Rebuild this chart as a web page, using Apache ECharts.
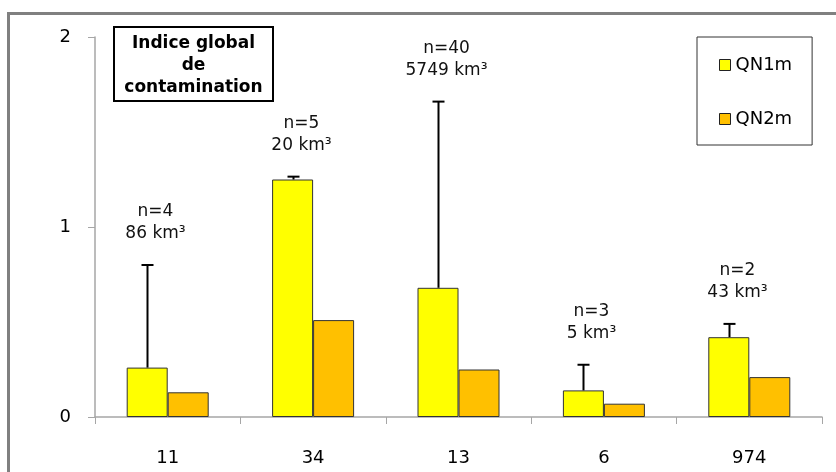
<!DOCTYPE html>
<html>
<head>
<meta charset="utf-8">
<script src="https://cdn.jsdelivr.net/npm/echarts@6/dist/echarts.min.js"></script>
<style>
html,body{margin:0;padding:0;background:#fff;}
#chart{width:836px;height:472px;}
</style>
</head>
<body>
<div id="chart"></div>
<script>
// ---- data ----
const categories = ['11', '34', '13', '6', '974'];
const qn1m = [0.26, 1.25, 0.68, 0.14, 0.42];
const qn2m = [0.13, 0.51, 0.25, 0.07, 0.21];
const qn1mErrPlus = [0.54, 0.015, 0.98, 0.135, 0.07];
const sampleN = [4, 5, 40, 3, 2];
const volumesKm3 = [86, 20, 5749, 5, 43];
const yTicks = [0, 1, 2];
const titleLines = ['Indice global', 'de', 'contamination'];

const FONT = '"DejaVu Sans", Verdana, sans-serif';
const BAR_W = 41;

const errData = categories.map((c, i) => [i, qn1m[i] + qn1mErrPlus[i], qn1m[i], sampleN[i], volumesKm3[i]]);

const chart = echarts.init(document.getElementById('chart'), null, {renderer: 'canvas'});
chart.setOption({
  animation: false,
  backgroundColor: '#ffffff',
  textStyle: {fontFamily: FONT},
  grid: {left: 95, right: 14, top: 37, bottom: 55},
  legend: {
    orient: 'vertical',
    left: 697, top: 37,
    data: ['QN1m', 'QN2m'],
    icon: 'rect',
    itemWidth: 11, itemHeight: 11,
    itemGap: 36,
    padding: [19, 20, 17, 22],
    borderColor: '#333',
    borderWidth: 1,
    textStyle: {fontFamily: FONT, fontSize: 18, color: '#000'},
    itemStyle: {borderColor: '#222', borderWidth: 1}
  },
  xAxis: {
    type: 'category',
    data: categories,
    axisLine: {lineStyle: {color: '#a6a6a6', width: 1.5}},
    axisTick: {show: true, length: 7, lineStyle: {color: '#a6a6a6'}},
    axisLabel: {color: '#000', fontSize: 18, fontFamily: FONT, margin: 32}
  },
  yAxis: {
    type: 'value',
    min: 0, max: 2, interval: 1,
    splitLine: {show: false},
    axisLine: {show: true, lineStyle: {color: '#a6a6a6', width: 1.5}},
    axisTick: {show: true, length: 7, lineStyle: {color: '#a6a6a6'}},
    axisLabel: {
      color: '#000', fontSize: 18, fontFamily: FONT, margin: 24,
      formatter: v => (yTicks.indexOf(v) >= 0 ? String(v) : '')
    }
  },
  series: [
    {
      name: 'QN1m', type: 'bar', data: qn1m, barWidth: BAR_W, barGap: '0%',
      itemStyle: {color: '#FFFF00', borderColor: '#333', borderWidth: 1}
    },
    {
      name: 'QN2m', type: 'bar', data: qn2m, barWidth: BAR_W, barGap: '0%',
      itemStyle: {color: '#FFC000', borderColor: '#333', borderWidth: 1}
    },
    {
      name: 'err', type: 'custom', data: errData, z: 5,
      renderItem: function (params, api) {
        const top = api.coord([api.value(0), api.value(1)]);
        const base = api.coord([api.value(0), api.value(2)]);
        const x = Math.round(top[0] - BAR_W / 2) + 0.5;
        const n = api.value(3), vol = api.value(4);
        return {
          type: 'group',
          children: [
            {type: 'line', shape: {x1: x, y1: base[1], x2: x, y2: top[1]}, style: {stroke: '#000', lineWidth: 2}},
            {type: 'line', shape: {x1: x - 6, y1: top[1], x2: x + 6, y2: top[1]}, style: {stroke: '#000', lineWidth: 2}},
            {type: 'text', style: {
              text: 'n=' + n + '\n' + vol + ' km³',
              x: x + 8, y: top[1] - 20,
              align: 'center', verticalAlign: 'bottom',
              fontFamily: FONT, fontSize: 17, lineHeight: 22, fill: '#111'
            }}
          ]
        };
      }
    }
  ],
  graphic: [
    {type: 'rect', shape: {x: 8.5, y: 13.5, width: 900, height: 600}, style: {fill: null, stroke: '#808080', lineWidth: 3}, silent: true},
    {type: 'rect', shape: {x: 114, y: 27, width: 159, height: 74}, style: {fill: '#fff', stroke: '#000', lineWidth: 2}},
    {type: 'text', x: 193.5, y: 66, z: 100, style: {
      text: titleLines.join('\n'), align: 'center', verticalAlign: 'middle',
      fontFamily: FONT, fontWeight: 'bold', fontSize: 17, lineHeight: 22, fill: '#000'
    }}
  ]
});
</script>
</body>
</html>
